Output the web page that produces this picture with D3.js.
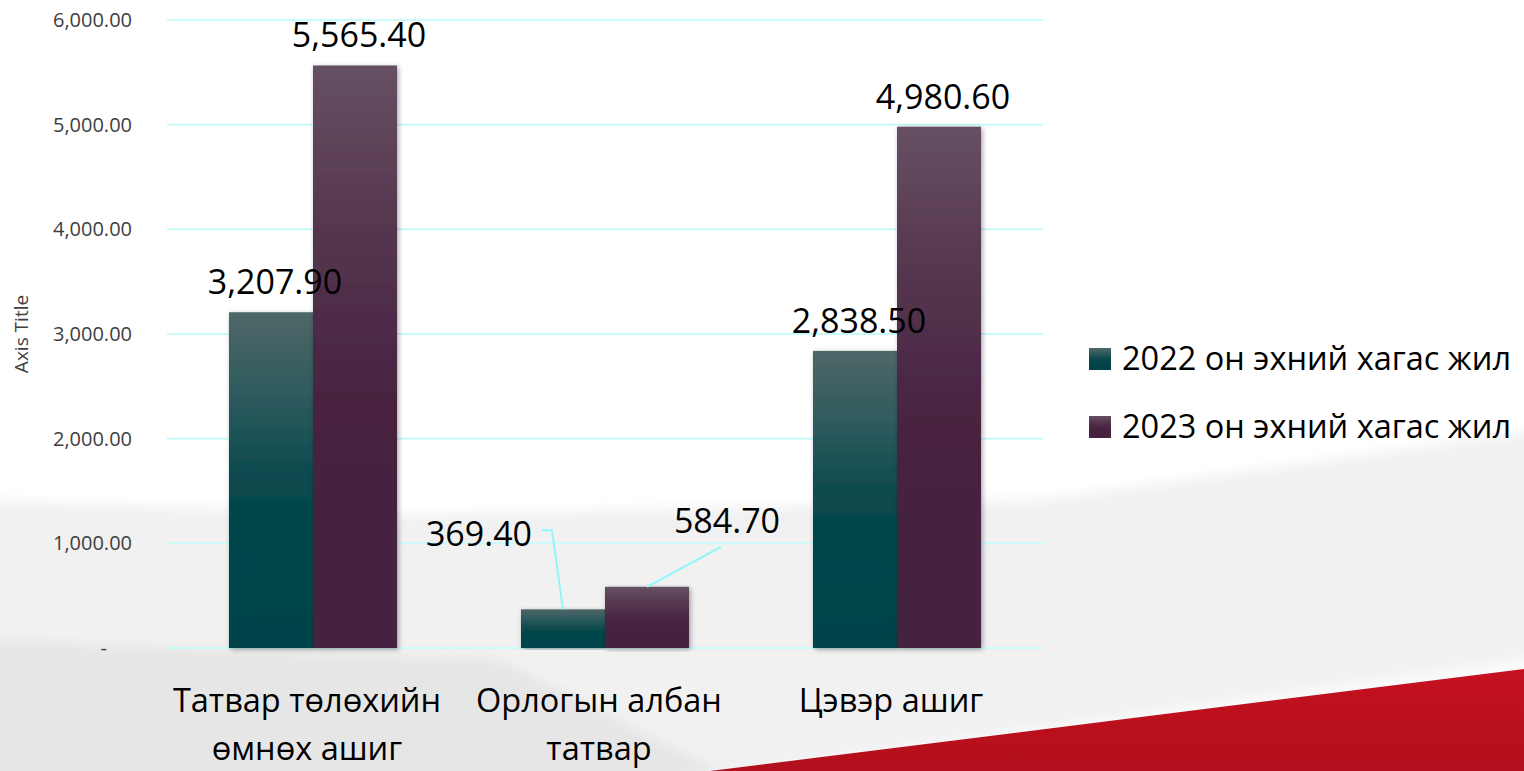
<!DOCTYPE html>
<html>
<head>
<meta charset="utf-8">
<script src="https://cdn.jsdelivr.net/npm/d3@7"></script>
<style>
  html, body { margin: 0; padding: 0; background: #fff; }
  svg { display: block; font-family: "Open Sans", "Noto Sans", sans-serif; }
</style>
</head>
<body>
<svg width="1524" height="771"></svg>
<script>
const categories = ["Татвар төлөхийн өмнөх ашиг", "Орлогын албан татвар", "Цэвэр ашиг"];
const categoryLines = [["Татвар төлөхийн", "өмнөх ашиг"], ["Орлогын албан", "татвар"], ["Цэвэр ашиг"]];
const seriesNames = ["2022 он эхний хагас жил", "2023 он эхний хагас жил"];
const values2022 = [3207.9, 369.4, 2838.5];
const values2023 = [5565.4, 584.7, 4980.6];
const yTicks = [0, 1000, 2000, 3000, 4000, 5000, 6000];

const svg = d3.select("svg"),
      width = +svg.attr("width"),
      height = +svg.attr("height");

const plot = {left: 167, right: 1043, top: 20, bottom: 648};

// rows for grouped bars
const rows = categories.map((c, i) => ({cat: c, vals: [values2022[i], values2023[i]]}));

const x0 = d3.scaleBand().domain(categories).range([plot.left, plot.right]);
const x1 = d3.scaleBand().domain([0, 1]).range([0, x0.bandwidth()]).paddingOuter(0.738);
const y = d3.scaleLinear().domain([0, 6000]).range([plot.bottom, plot.top]);

const defs = svg.append("defs");

// bar gradients
const grads = [
  {id: "g0", stops: [["0%", "#4e6768"], ["25%", "#2d5a5d"], ["50%", "#0a494e"], ["60%", "#03464b"], ["100%", "#02434a"]]},
  {id: "g1", stops: [["0%", "#665063"], ["25%", "#573850"], ["50%", "#4b2745"], ["60%", "#48233f"], ["100%", "#45203f"]]}
];
grads.forEach(g => {
  const lg = defs.append("linearGradient").attr("id", g.id)
      .attr("x1", 0).attr("y1", 0).attr("x2", 0).attr("y2", 1);
  g.stops.forEach(s => lg.append("stop").attr("offset", s[0]).attr("stop-color", s[1]));
});

const redGrad = defs.append("linearGradient").attr("id", "red")
    .attr("x1", 0).attr("y1", 0).attr("x2", 0).attr("y2", 1);
redGrad.append("stop").attr("offset", "0%").attr("stop-color", "#c4111f");
redGrad.append("stop").attr("offset", "100%").attr("stop-color", "#b30f1c");

defs.append("filter").attr("id", "blur").attr("x", "-10%").attr("y", "-10%")
    .attr("width", "120%").attr("height", "120%")
  .append("feGaussianBlur").attr("stdDeviation", 6);

defs.append("filter").attr("id", "shadow").attr("x", "-20%").attr("y", "-5%")
    .attr("width", "140%").attr("height", "110%")
  .append("feDropShadow").attr("dx", 1.5).attr("dy", 1.5).attr("stdDeviation", 2.5)
    .attr("flood-color", "#000").attr("flood-opacity", 0.35);

// background
const bg = svg.append("g").attr("class", "background");
bg.append("rect").attr("width", width).attr("height", height).attr("fill", "#fff");
bg.append("path")
    .attr("d", "M-20,500 L400,515 L1040,500 L1544,430 L1544,791 L-20,791 Z")
    .attr("fill", "#f1f1f1").attr("filter", "url(#blur)");
bg.append("path")
    .attr("d", "M-20,640 L500,660 L760,791 L-20,791 Z")
    .attr("fill", "#e6e6e6").attr("filter", "url(#blur)");
bg.append("path")
    .attr("d", "M600,791 L1544,655 L1544,700 L700,791 Z")
    .attr("fill", "#fafafa").attr("filter", "url(#blur)");
bg.append("path")
    .attr("d", "M710,771 L1524,669 L1524,771 Z")
    .attr("fill", "url(#red)");

// gridlines
svg.append("g").attr("class", "grid")
  .selectAll("line")
  .data(yTicks)
  .enter().append("line")
    .attr("x1", plot.left).attr("x2", plot.right)
    .attr("y1", d => y(d)).attr("y2", d => y(d))
    .attr("stroke", "#c9fbfb").attr("stroke-width", 2);

// y axis
const yAxis = svg.append("g")
    .attr("transform", `translate(${plot.left - 32},0)`)
    .call(d3.axisLeft(y).tickValues(yTicks).tickSize(0)
      .tickFormat(d => d === 0 ? "-" : d3.format(",.2f")(d)));
yAxis.select(".domain").remove();
yAxis.selectAll("text")
    .attr("fill", "#404040")
    .attr("font-size", 20)
    .attr("font-family", "'Open Sans', sans-serif")
    .attr("dx", d => d === 0 ? -25 : 0);

svg.append("text")
    .attr("transform", `translate(28,${(plot.top + plot.bottom) / 2}) rotate(-90)`)
    .attr("text-anchor", "middle")
    .attr("font-size", 19)
    .attr("fill", "#404040")
    .text("Axis Title");

// bars
const groups = svg.append("g").attr("class", "bars")
  .selectAll("g")
  .data(rows)
  .enter().append("g")
    .attr("transform", d => `translate(${x0(d.cat)},0)`);

groups.selectAll("rect")
  .data(d => d.vals.map((v, s) => ({s: s, v: v})))
  .enter().append("rect")
    .attr("x", d => x1(d.s))
    .attr("y", d => y(d.v))
    .attr("width", x1.bandwidth())
    .attr("height", d => y(0) - y(d.v))
    .attr("fill", d => `url(#g${d.s})`)
    .attr("filter", "url(#shadow)");

// data labels; the small middle bars have their labels pulled out with leader lines
const moved = {"1-0": {dx: -84, dy: -63, leader: [[-21, -79], [-11, -79], [0, 0]]},
               "1-1": {dx: 80, dy: -54, leader: [[0, 0], [74, -40]]}};

const labels = svg.append("g").attr("class", "labels");
rows.forEach((r, i) => {
  r.vals.forEach((v, s) => {
    const cx = x0(r.cat) + x1(s) + x1.bandwidth() / 2;
    const top = y(v);
    const m = moved[i + "-" + s];
    if (m) {
      labels.append("path")
          .attr("d", d3.line()(m.leader.map(p => [cx + p[0], top + p[1]])))
          .attr("fill", "none")
          .attr("stroke", "#8ff7f7")
          .attr("stroke-width", 2);
    }
    labels.append("text")
        .attr("x", cx + (m ? m.dx : 4))
        .attr("y", top + (m ? m.dy : -18))
        .attr("text-anchor", "middle")
        .attr("font-size", 34)
        .attr("fill", "#000")
        .text(d3.format(",.2f")(v));
  });
});

// category labels
const catLabels = svg.append("g").attr("class", "x-labels");
categories.forEach((c, i) => {
  const cx = x0(c) + x0.bandwidth() / 2 - 6;
  const t = catLabels.append("text")
      .attr("x", cx)
      .attr("y", 712)
      .attr("text-anchor", "middle")
      .attr("font-size", 32.5)
      .attr("fill", "#000");
  categoryLines[i].forEach((line, k) => {
    t.append("tspan")
        .attr("x", cx)
        .attr("dy", k === 0 ? 0 : 48)
        .text(line);
  });
});

// legend
const legend = svg.append("g").attr("class", "legend")
  .selectAll("g")
  .data(seriesNames)
  .enter().append("g")
    .attr("transform", (d, i) => `translate(1089,${348 + i * 68})`);

legend.append("rect")
    .attr("width", 22).attr("height", 22)
    .attr("fill", (d, i) => `url(#g${i})`);

legend.append("text")
    .attr("x", 33)
    .attr("y", 22)
    .attr("font-size", 32.5)
    .attr("fill", "#000")
    .text(d => d);
</script>
</body>
</html>
